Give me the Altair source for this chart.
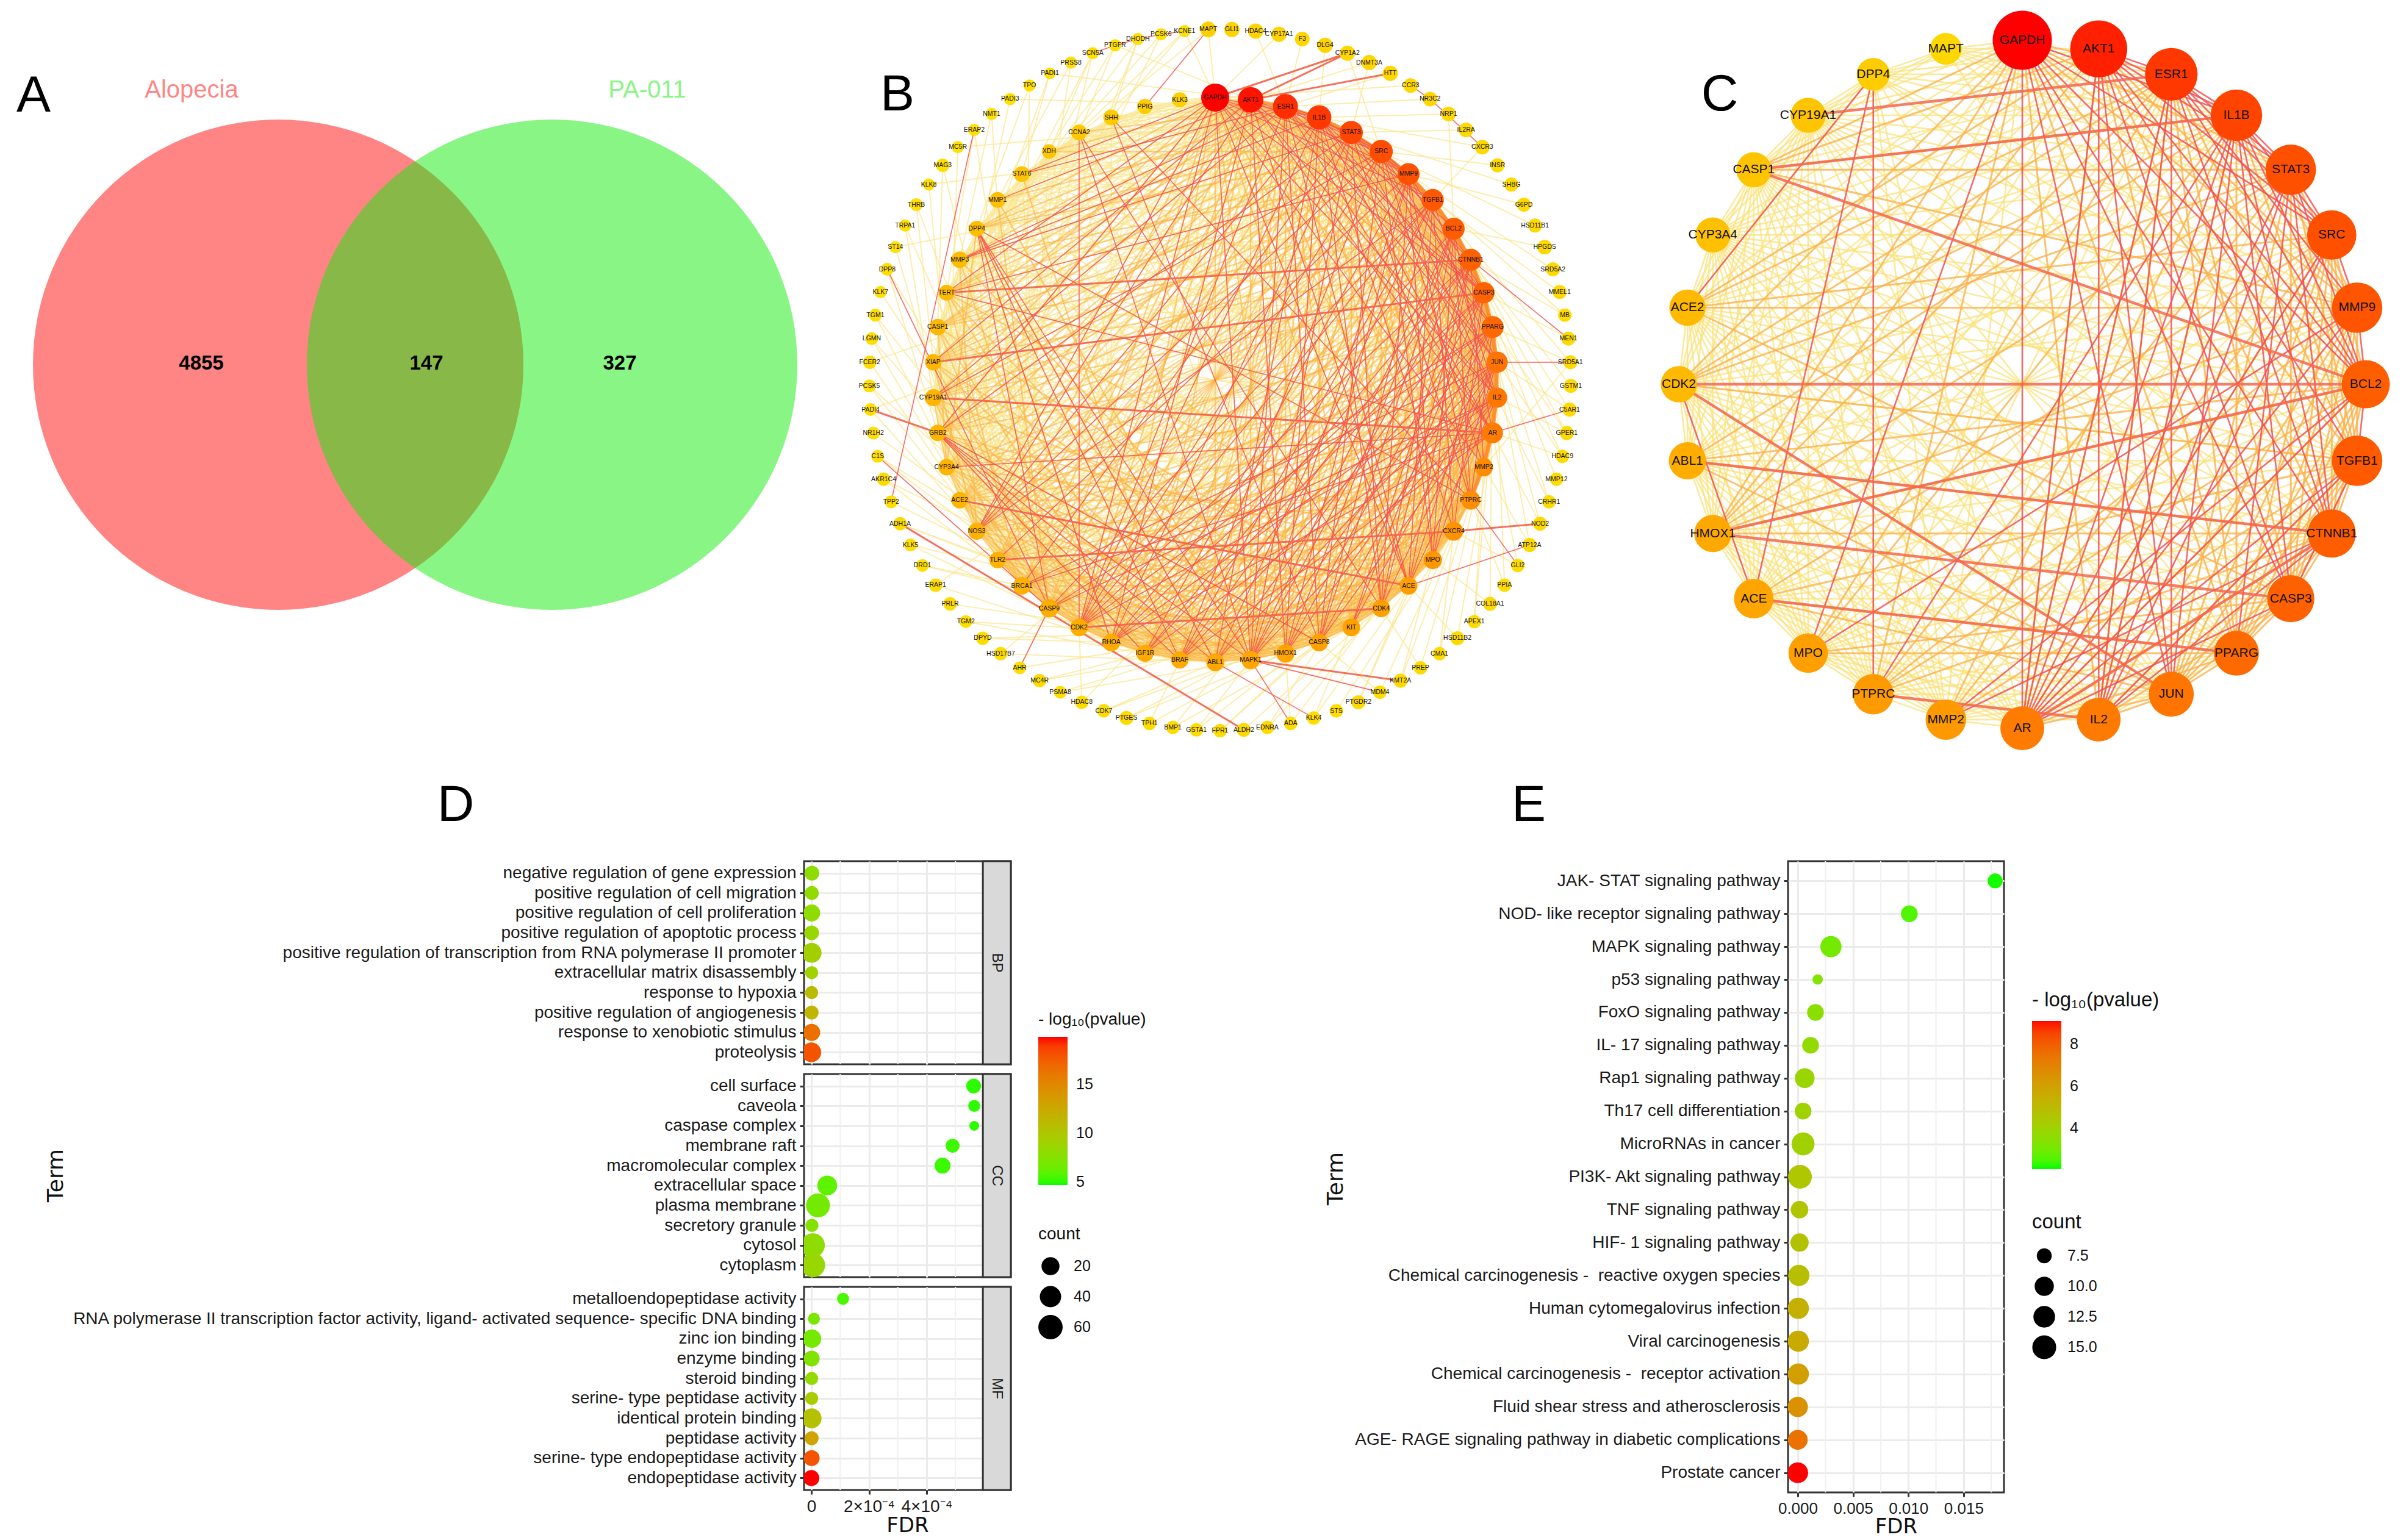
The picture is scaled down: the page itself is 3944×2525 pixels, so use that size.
import math
import altair as alt
import pandas as pd

FONT = "Liberation Sans"
WIDE = "DejaVu Sans"

# ---------- Panel A ----------
venn_x = [456, 905]
venn_y = [598, 598]
venn_r = 402
venn_names = ["Alopecia", "PA-011"]
venn_name_x = [314, 1061]
venn_name_y = [148, 148]
venn_counts = ["4855", "147", "327"]
venn_count_x = [330, 699, 1016]
venn_count_y = [596, 596, 596]

# ---------- Panel B nodes ----------
B_inner = ["GAPDH","AKT1","ESR1","IL1B","STAT3","SRC","MMP9","TGFB1","BCL2","CTNNB1","CASP3","PPARG","JUN","IL2","AR","MMP2","PTPRC","CXCR4","MPO","ACE","CDK4","KIT","CASP8","HMOX1","MAPK1","ABL1","BRAF","IGF1R","RHOA","CDK2","CASP9","BRCA1","TLR2","NOS3","ACE2","CYP3A4","GRB2","CYP19A1","XIAP","CASP1","TERT","MMP3","DPP4","MMP1","STAT6","XDH","CCNA2","SHH","PPIG","KLK3"]
B_inner_deg = [46,42,41,40,38,38,36,36,36,36,35,36,35,33,34,30,31,31,30,29,29,29,29,30,30,29,28,28,29,29,30,29,27,28,27,27,27,28,27,27,26,27,26,26,26,24,26,26,25,25]
B_inner_heat = [224,204,179,169,154,146,142,136,132,128,126,120,109,106,100,84,82,78,72,66,64,62,62,60,58,56,54,54,52,50,50,48,46,46,44,44,44,44,42,40,38,36,34,32,28,26,24,20,18,16]
B_outer = ["GLI1","HDAC4","CYP17A1","F3","DLG4","CYP1A2","DNMT3A","HTT","CCR3","NR3C2","NRP1","IL2RA","CXCR3","INSR","SHBG","G6PD","HSD11B1","HPGDS","SRD5A2","MMEL1","MB","MEN1","SRD5A1","GSTM1","C5AR1","GPER1","HDAC9","MMP12","CRHR1","NOD2","ATP12A","GLI2","PPIA","COL18A1","APEX1","HSD11B2","CMA1","PREP","KMT2A","MDM4","PTGDR2","STS","KLK4","ADA","EDNRA","ALDH2","FPR1","GSTA1","BMP1","TPH1","PTGES","CDK7","HDAC8","PSMA8","MC4R","AHR","HSD17B7","DPYD","TGM2","PRLR","ERAP1","DRD1","KLK5","ADH1A","TPP2","AKR1C4","C1S","NR1H2","PADI4","PCSK5","FCER2","LGMN","TGM1","KLK7","DPP8","ST14","TRPA1","THRB","KLK8","MAG3","MC5R","ERAP2","NMT1","PADI3","TPO","PADI1","PRSS8","SCN5A","PTGFR","DHODH","PCSK6","KCNE1","MAPT"]
B_outer_deg = [25,25,25,24,25,25,25,25,24,24,24,24,24,23,23,23,23,24,23,23,22,23,23,23,23,23,22,22,22,23,23,22,22,23,22,23,22,22,23,22,23,22,22,22,22,23,22,22,22,22,23,22,22,21,22,21,22,22,21,22,22,21,21,22,21,22,21,21,21,21,22,21,21,20,21,20,20,21,20,22,20,20,20,20,20,19,20,20,20,20,20,20,26]
B_outer_heat = [14,12,12,10,12,10,10,10,8,8,8,8,8,6,6,6,6,8,6,6,4,6,6,6,6,6,4,4,4,6,6,4,4,6,4,6,4,4,6,4,6,4,4,4,4,6,4,4,4,4,6,4,4,2,4,2,4,4,2,4,4,2,2,4,2,4,2,2,2,2,4,2,2,0,2,0,0,2,0,2,0,0,0,0,0,0,0,0,0,0,0,0,16]

# Edges of B (row = source index: partner indices).
B_pale = {
0:"16 18 19 20 21 22 24 26 27 29 31 33 34 35 37 39 40 41 43 44 45 46 47 48 49 52 55 58 142 141",
1:"15 17 19 20 21 23 25 26 28 30 32 33 35 36 38 40 42 43 44 46 47 48 55 56 135 138",
2:"16 18 19 20 22 24 27 28 29 31 33 34 36 37 38 41 43 44 45 47 48 51 53 57 59 133",
3:"15 17 18 20 21 23 25 27 29 30 32 33 35 37 39 41 42 44 45 46 47 54 60 62 130",
4:"14 16 19 20 22 24 26 28 30 31 34 35 36 38 40 41 43 45 46 48 49 56 61 64 128",
5:"15 17 18 21 22 23 25 26 29 31 32 33 35 37 39 41 43 44 47 55 63 66 70 125",
6:"16 18 19 20 23 24 27 28 30 32 34 36 38 40 42 44 45 46 48 65 68 72 120",
7:"17 19 21 22 25 26 29 30 33 35 37 39 40 41 43 47 62 69 74 118",
8:"16 18 20 22 23 24 28 31 32 34 35 36 38 41 43 44 46 60 67 75 110",
9:"15 19 20 21 24 26 27 29 30 33 34 37 40 42 45 48 49 70 73 76 106",
10:"17 18 21 23 25 27 28 31 32 35 36 38 39 43 44 46 71 77 80 102",
11:"16 19 22 24 26 29 30 33 34 37 39 41 42 45 47 72 75 78 83 98",
12:"18 20 21 23 25 28 31 32 35 36 40 41 43 44 74 76 79 84 94",
13:"17 19 22 24 27 29 30 33 34 37 38 41 45 46 75 78 82 86 90",
14:"20 21 23 26 28 31 32 35 36 39 40 43 76 79 81 85 88",
15:"18 22 24 25 27 30 33 34 37 38 41 44 72 80 84 89 93",
16:"20 21 23 26 28 29 31 35 36 39 42 45 82 87 92 96",
17:"19 22 24 27 30 32 33 37 38 40 43 46 81 86 91 97",
18:"21 23 25 28 31 34 35 39 41 44 83 88 95 100",
19:"22 24 26 29 32 33 36 38 42 45 85 90 99 103",
20:"23 25 27 30 34 35 37 40 43 47 87 94 101 105",
21:"24 26 28 31 33 36 39 41 46 92 98 104 107",
22:"25 27 29 32 35 37 38 44 48 89 96 108 112",
23:"26 28 30 33 34 39 42 47 93 100 109 111",
24:"27 29 31 36 37 40 43 49 97 103 113 115",
25:"28 30 32 35 38 41 44 101 106 114 116",
26:"29 31 33 34 39 42 45 99 108 117 119",
27:"30 32 36 37 40 46 104 110 121 122",
28:"31 33 35 38 41 47 107 112 123 124",
29:"32 34 36 39 42 43 102 115 126 127",
30:"33 35 37 40 44 48 105 118 129 131",
31:"34 36 38 41 45 111 120 132 134",
32:"35 37 39 42 46 113 122 136",
33:"36 38 40 43 47 116 125 137",
34:"37 39 41 44 48 119 128 139",
35:"38 40 42 45 49 121 130 140",
36:"39 41 43 46 124 133",
37:"40 42 44 47 126 135",
38:"41 43 45 127 137",
39:"42 44 46 129 138",
40:"43 45 47 131 139",
41:"44 46 48 132 140",
42:"45 47 134 141",
43:"46 48 136 142",
44:"47 49 135",
45:"48 137",
46:"49 138",
47:"141 139",
}
B_orange = {
0:"2 4 6 8 11 14 17 20 23 25 28 30 32 36 38 42",
1:"3 5 7 9 12 16 18 22 24 27 29 31 34 37 39 41 45",
2:"4 6 9 11 13 15 17 21 23 25 26 30 32 35 39 40 42 46",
3:"5 7 8 10 13 16 19 22 24 26 28 31 34 36 38 40 43",
4:"6 7 9 11 12 15 17 18 21 23 25 27 29 32 33 37 39 42",
5:"7 8 10 12 14 16 19 20 24 27 28 30 34 36 38 40 42 45",
6:"7 8 9 11 13 14 15 17 21 22 25 26 29 31 33 35 37 39 41",
7:"8 9 10 11 12 14 15 16 18 20 23 24 27 28 31 32 34 36 38",
8:"9 10 11 12 13 15 17 19 21 25 26 27 29 30 33 37 39",
9:"10 11 12 13 14 16 17 18 22 23 25 28 31 32 35 36 38",
10:"11 12 13 14 15 16 19 20 22 24 26 29 30 33 34 37",
11:"12 13 14 15 17 18 20 21 23 25 27 28 31 32 35 36",
12:"13 14 15 16 17 19 22 24 26 27 29 30 33 34",
13:"14 15 16 18 20 21 23 25 26 28 31 32 35",
14:"15 16 17 18 19 22 24 25 27 29 30 33 34 37",
15:"16 17 19 20 21 23 26 28 29 31 32",
16:"17 18 19 22 24 25 27 30 33 34",
17:"18 20 21 23 25 26 28 29 31 35",
18:"20 22 24 26 27 30 32 36 40",
19:"21 23 25 27 28 31 34 37",
20:"22 24 26 28 29 33 36 39",
21:"23 25 27 30 32 35 38",
22:"24 26 28 31 34 36 41",
23:"25 27 29 32 35 40",
24:"26 28 30 33 38 43",
25:"27 29 31 34 37 42",
26:"28 30 32 35 40 44",
27:"29 31 33 36 39",
28:"30 32 34 37 42",
29:"31 33 35 38 41",
30:"32 34 36 39 43",
31:"33 35 37 40",
33:"35 38 41",
35:"37 39 42",
}
B_chain = {
1:"2",2:"3",3:"4 5",4:"5 6",5:"6 7",6:"7 8",7:"8 9",8:"9 10",9:"10 11",10:"11 12",11:"12 13",12:"13 14",13:"14 15",14:"15 16",15:"16",
}
B_red = {
0:"3 5 7 10 13 15 19 24 29 33 36 40 44",
1:"4 6 10 13 14 19 23 28 33 38 43",
2:"3 5 7 10 12 14 19 22 24 29 37 41 44",
3:"6 9 11 12 14 17 20 23 25 29 33 41",
4:"5 8 10 13 16 20 24 28 31 36 41",
5:"6 9 11 13 15 18 22 26 29 33 37",
6:"10 12 16 18 20 23 24 27 32 40",
7:"13 17 19 22 25 26 29 30 33",
8:"14 16 18 20 22 23 24 28",
9:"15 19 20 21 24 26 27 29",
10:"17 18 21 23 25 27 28",
11:"16 19 22 24 26 29 30",
12:"18 20 21 23 25 28 31",
13:"19 22 24 27 29 30",
14:"26 28 31 35 40",
42:"24 25 26 28 30",
36:"24 25 27 22 26",
46:"20 24 29",
47:"16 22",
}
B_red_named = "MAPT-PPIG ERAP2-TPP2 DPP8-CASP9 C1S-CASP9 ATP12A-ACE C5AR1-AR PTPRC-GLI2 MDM4-MAPK1 ADA-MAPK1 KLK4-ABL1 AHR-CASP9 MEN1-CTNNB1 SRD5A1-JUN SCN5A-PTGFR PTGFR-DHODH DHODH-PCSK6 PCSK6-KCNE1 CCR3-NR3C2 NR3C2-CXCR3 DPP4-PTPRC"
B_thick_named = "ACE2-ACE TLR2-CXCR4 CDK2-CDK4 TERT-CTNNB1 XIAP-CASP3 CYP19A1-AR CYP1A2-GAPDH CYP1A2-AKT1 HTT-AKT1 ADH1A-ALDH2 PADI4-GRB2 NOD2-CXCR4 KMT2A-MAPK1"

# ---------- Panel C ----------
C_nodes = ["GAPDH","AKT1","ESR1","IL1B","STAT3","SRC","MMP9","BCL2","TGFB1","CTNNB1","CASP3","PPARG","JUN","IL2","AR","MMP2","PTPRC","MPO","ACE","HMOX1","ABL1","CDK2","ACE2","CYP3A4","CASP1","CYP19A1","DPP4","MAPT"]
C_deg = [27,26,24,23.5,23,22.5,23,22,23,22,21.5,20.5,20.5,20,20,18.5,18.5,18,18,17,17,16.5,16.5,16,16,16,15,14.5]
C_heat = [224,192,168,156,144,144,139,130,134,130,128,118,107,102,100,71,70,64,59,56,50,39,39,32,28,28,20,9]
C_pale = {
0:"18 20 22 23 25 26 27 15",
1:"27 26 25 23 21 20 18 16",
2:"27 26 24 23 20 18 16 15",
3:"27 26 25 23 22 19 18",
4:"27 26 25 23 22 20 18 17 15",
5:"27 25 23 21 20 19 17 16",
6:"26 25 23 21 20 18 15",
7:"27 26 25 23 22 18 17",
8:"26 25 24 23 22 21 20 19 17 16",
9:"25 24 23 22 21 18 17",
10:"27 25 24 23 21 20 18 16 15",
11:"26 25 24 23 22 21 20 19 16 15 13",
12:"25 24 23 22 21 19 17 16 15",
13:"25 24 23 22 21 20 19 18 17 16 15",
14:"26 24 23 22 21 20 19 18 17 15",
15:"26 25 24 23 22 21 20 19 18 17 16",
16:"25 24 23 22 21 20 19 18 17",
17:"25 24 23 22 21 20 19 18",
18:"25 24 23 22 20 19",
19:"25 24 23 22 21 20",
20:"25 24 23 22 21",
21:"25 24 23 22",
22:"26 25 24 23",
23:"26 25 24",
24:"27 26 25",
25:"27 26",
26:"27",
}
C_orange = {
0:"2 4 6 8 11 13 16 24 19 21",
1:"6 9 11 14 24 19 22",
2:"8 10 11 13 14 22 17 19 21",
3:"6 8 11 13 15 21 24 17 20",
4:"6 8 10 12 19 24 16 21",
5:"7 8 9 10 11 12 14 15 18 22",
6:"8 9 10 11 12 13 22 16 19 24",
7:"9 10 11 12 14 16 19 20",
8:"9 10 11 12 13 21 15 18",
9:"10 11 12 14 20 16 19",
10:"11 12 13 17 22",
11:"12 14 17 18",
12:"13 14 18 20",
}
C_red = {
0:"3 5 7 9 10 12 14 17",
1:"2 3 4 5 7 8 10 12 13 14",
2:"3 4 5 6 7 9 12 13 14",
3:"4 5 7 9 10 12 14 13 16",
4:"5 7 9 11 13 14",
5:"6 13 14",
6:"7 17 14",
7:"8 14 15",
8:"10 13 14",
9:"13 15",
10:"14",
26:"22 16 18",
21:"18",
}
C_thick = {24:"3 7", 25:"2", 21:"7 12", 19:"7 10", 20:"9", 18:"11", 16:"13", 14:"9"}

# ---------- Panel D ----------
BP_terms = ["negative regulation of gene expression","positive regulation of cell migration","positive regulation of cell proliferation","positive regulation of apoptotic process","positive regulation of transcription from RNA polymerase II promoter","extracellular matrix disassembly","response to hypoxia","positive regulation of angiogenesis","response to xenobiotic stimulus","proteolysis"]
BP_fdr = [2e-6,1.5e-6,1e-6,1e-6,1e-6,1e-6,1e-6,1e-6,1e-6,0]
BP_count = [14,12,20,14,36,10,10,12,20,35]
BP_p = [8,8.2,8,8.5,9.2,9,11,11.5,16.5,18]
CC_terms = ["cell surface","caveola","caspase complex","membrane raft","macromolecular complex","extracellular space","plasma membrane","secretory granule","cytosol","cytoplasm"]
CC_fdr = [5.63e-4,5.65e-4,5.65e-4,4.9e-4,4.55e-4,0.55e-4,0.23e-4,0.02e-4,0.05e-4,0.06e-4]
CC_count = [14,8,4,12,17,36,64,10,65,65]
CC_p = [5,5,5,5.2,5.2,6,6.7,7.5,8,8.5]
MF_terms = ["metalloendopeptidase activity","RNA polymerase II transcription factor activity, ligand- activated sequence- specific DNA binding","zinc ion binding","enzyme binding","steroid binding","serine- type peptidase activity","identical protein binding","peptidase activity","serine- type endopeptidase activity","endopeptidase activity"]
MF_fdr = [1.1e-4,0.09e-4,2e-6,1e-6,1e-6,1e-6,1e-6,1e-6,1e-6,0]
MF_count = [8,8,28,17,10,10,36,12,17,17]
MF_p = [5.5,7,6.8,7.4,8.3,9.5,10.5,13,18,19.9]

# ---------- Panel E ----------
E_terms = ["JAK- STAT signaling pathway","NOD- like receptor signaling pathway","MAPK signaling pathway","p53 signaling pathway","FoxO signaling pathway","IL- 17 signaling pathway","Rap1 signaling pathway","Th17 cell differentiation","MicroRNAs in cancer","PI3K- Akt signaling pathway","TNF signaling pathway","HIF- 1 signaling pathway","Chemical carcinogenesis -\u00a0 reactive oxygen species","Human cytomegalovirus infection","Viral carcinogenesis","Chemical carcinogenesis -\u00a0 receptor activation","Fluid shear stress and atherosclerosis","AGE- RAGE signaling pathway in diabetic complications","Prostate cancer"]
E_fdr = [0.01785,0.01009,0.0030,0.0018,0.0016,0.00116,0.00063,0.00048,0.00048,0.0002,0.00016,0.00016,0.0001,0.00005,0.00005,0.00005,0,0,0]
E_count = [8,9,13,5,9,9,11.5,9,15,16,9.5,10,13,13,13,13,12,11.5,12.5]
E_p = [2.1,2.5,3.0,3.3,3.5,3.7,3.9,4.0,4.1,4.5,4.6,4.7,4.8,5.4,5.6,6.0,6.5,7.5,9.1]

# ---------- helpers ----------
def pairs(rows):
    out = []
    for s, txt in rows.items():
        for t in txt.split():
            out.append((int(s), int(t)))
    return out

def edge_frame(plist, xs, ys):
    return pd.DataFrame({"x": [xs[a] for a, b in plist], "y": [ys[a] for a, b in plist],
                         "x2": [xs[b] for a, b in plist], "y2": [ys[b] for a, b in plist]})

TOP_Y = [1250, 8]

def network(nodes, xs, ys, deg, heat, edge_tiers, x_dom, deg_max, d_max, font, letter, letter_x, letter_y):
    X = alt.X("x:Q", scale=alt.Scale(domain=x_dom, nice=False, zero=False), axis=None)
    Y = alt.Y("y:Q", scale=alt.Scale(domain=TOP_Y, nice=False, zero=False), axis=None)
    layers = []
    for df, color, w, op in edge_tiers:
        layers.append(alt.Chart(df).mark_rule(color=color, strokeWidth=w, opacity=op)
                      .encode(x=X, y=Y, x2=alt.X2("x2:Q"), y2=alt.Y2("y2:Q")))
    nd = pd.DataFrame({"x": xs, "y": ys, "name": nodes, "deg": deg, "heat": heat})
    layers.append(alt.Chart(nd).mark_circle(opacity=1).encode(
        x=X, y=Y,
        size=alt.Size("deg:Q", legend=None, scale=alt.Scale(type="pow", exponent=2, domain=[0, deg_max], range=[0, d_max ** 2])),
        color=alt.Color("heat:Q", legend=None, scale=alt.Scale(domain=[0, 224], range=["#ffe000", "#ff0000"], interpolate="rgb"))))
    layers.append(alt.Chart(nd).mark_text(font=FONT, fontSize=font, color="#111111").encode(x=X, y=Y, text="name:N"))
    ld = pd.DataFrame({"x": [letter_x], "y": [letter_y], "t": [letter]})
    layers.append(alt.Chart(ld).mark_text(font=FONT, fontSize=84, color="black").encode(x=X, y=Y, text="t:N"))
    return alt.layer(*layers).resolve_scale(color="independent", size="independent").properties(
        width=x_dom[1] - x_dom[0], height=TOP_Y[0] - TOP_Y[1])

# ---------- A : its view starts where the D plot starts, its marks reach to the left of the view ----------
A_dom = [1318, 1370]
XA = alt.X("x:Q", scale=alt.Scale(domain=A_dom, nice=False, zero=False), axis=None)
YA = alt.Y("y:Q", scale=alt.Scale(domain=TOP_Y, nice=False, zero=False), axis=None)
circ_size = (2 * venn_r) ** 2
red_c = alt.Chart(pd.DataFrame({"x": venn_x[:1], "y": venn_y[:1]})).mark_circle(size=circ_size, color="#ff0b0b", opacity=0.5).encode(x=XA, y=YA)
grn_c = alt.Chart(pd.DataFrame({"x": venn_x[1:], "y": venn_y[1:]})).mark_circle(size=circ_size, color="#11eb0b", opacity=0.5).encode(x=XA, y=YA)
n_df = pd.DataFrame({"x": venn_name_x, "y": venn_name_y, "t": venn_names})
names = alt.Chart(n_df).mark_text(font=FONT, fontSize=40).encode(
    x=XA, y=YA, text="t:N",
    color=alt.Color("t:N", legend=None, scale=alt.Scale(domain=venn_names, range=["#ff8585", "#88f585"])))
cnts = alt.Chart(pd.DataFrame({"x": venn_count_x, "y": venn_count_y, "t": venn_counts})).mark_text(
    font=FONT, fontSize=33, fontWeight="bold", color="black").encode(x=XA, y=YA, text="t:N")
let_a = alt.Chart(pd.DataFrame({"x": [55], "y": [158], "t": ["A"]})).mark_text(font=FONT, fontSize=84, color="black").encode(x=XA, y=YA, text="t:N")
panel_a = alt.layer(red_c, grn_c, names, cnts, let_a).properties(width=A_dom[1] - A_dom[0], height=TOP_Y[0] - TOP_Y[1])

# ---------- B ----------
b_names = B_inner + B_outer
b_x, b_y = [], []
for i in range(len(B_inner)):
    t = 2 * math.pi * i / len(B_inner)
    b_x.append(1992 + 463 * math.sin(t)); b_y.append(623 - 463 * math.cos(t))
for i in range(len(B_outer)):
    t = 2 * math.pi * (i + 0.5) / len(B_outer)
    b_x.append(2000 + 575 * math.sin(t)); b_y.append(623 - 575 * math.cos(t))
idx = {n: i for i, n in enumerate(b_names)}
def named(txt):
    return [(idx[p.split("-")[0]], idx[p.split("-")[1]]) for p in txt.split()]
b_tiers = [
    (edge_frame(pairs(B_pale), b_x, b_y), "#fbe68c", 2, 0.7),
    (edge_frame(pairs(B_orange), b_x, b_y), "#fbb23f", 2.4, 0.6),
    (edge_frame(pairs(B_chain), b_x, b_y), "#fb8f2a", 5, 0.8),
    (edge_frame(pairs(B_red) + named(B_red_named), b_x, b_y), "#f4504a", 1.6, 0.85),
    (edge_frame(named(B_thick_named), b_x, b_y), "#f5604a", 3, 0.9),
]
panel_b = network(b_names, b_x, b_y, B_inner_deg + B_outer_deg, B_inner_heat + B_outer_heat, b_tiers,
                  [1370, 2660], 46, 46, 10.5, "B", 1471, 156)

# ---------- C ----------
c_x = [3315 + 563 * math.sin(2 * math.pi * i / len(C_nodes)) for i in range(len(C_nodes))]
c_y = [630 - 564 * math.cos(2 * math.pi * i / len(C_nodes)) for i in range(len(C_nodes))]
c_tiers = [
    (edge_frame(pairs(C_pale), c_x, c_y), "#fbe27a", 2.6, 0.75),
    (edge_frame(pairs(C_orange), c_x, c_y), "#fbb14a", 3.0, 0.8),
    (edge_frame(pairs(C_red), c_x, c_y), "#f2504c", 2.6, 0.85),
    (edge_frame(pairs(C_thick), c_x, c_y), "#f5674c", 4.5, 0.85),
]
panel_c = network(C_nodes, c_x, c_y, C_deg, C_heat, c_tiers, [2660, 3936], 27, 97, 21, "C", 2819, 156)

# ---------- dot plots ----------
AX = dict(labelFont=FONT, labelColor="#1a1a1a", tickColor="#333333", tickWidth=3, tickSize=7,
          gridColor="#ebebeb", gridWidth=3, domain=False)
PANEL_VIEW = alt.ViewConfig(stroke="#333333", strokeWidth=3)
D_X_DOM = [-2.54e-5, 6.92e-4]
D_PANEL_END = 5.95e-4
D_MAJOR = [0, 2e-4, 4e-4]
D_MINOR = [1e-4, 3e-4, 5e-4]
D_H = 333
D_SIZE = alt.Scale(domain=[4, 20, 40, 65], range=[256, 784, 1122, 1560])
D_COLOR = alt.Scale(domain=[4.7, 19.9], range=["#00ff00", "#ff0000"], interpolate="lab")
D_LEG_C = alt.Legend(orient="none", legendX=384, legendY=246, title="- log₁₀(pvalue)", titleFont=FONT, titleFontWeight="normal",
                     titleFontSize=28, titleLimit=400, titleColor="#111111", titlePadding=14, labelFont=FONT, labelFontSize=25, labelColor="#111111",
                     gradientLength=243, gradientThickness=48, values=[5, 10, 15], labelOffset=14, type="gradient")
D_LEG_S = alt.Legend(orient="none", legendX=384, legendY=598, title="count", titleFont=FONT, titleFontWeight="normal",
                     titleFontSize=28, titleColor="#111111", titlePadding=14, labelFont=FONT, labelFontSize=25, labelColor="#111111",
                     values=[20, 40, 60], clipHeight=48, symbolFillColor="black", symbolStrokeColor="black", symbolType="circle", labelOffset=18)

def dot_panel(terms, fdr, cnt, p, strip, show_x=False, term_title=None, legends=False, letter=None):
    df = pd.DataFrame({"Term": terms, "FDR": fdr, "count": cnt, "p": p})
    xaxis = alt.Axis(values=D_MAJOR, grid=True, title="FDR" if show_x else None, labels=show_x, ticks=show_x,
                     labelFontSize=28, labelOverlap=False, labelBound=False, labelPadding=6,
                     titleFont=WIDE, titleFontWeight="normal", titleFontSize=34, titleColor="#111111", titlePadding=0,
                     labelExpr="datum.value == 0 ? '0' : (datum.value < 3e-4 ? '2×10⁻⁴' : '4×10⁻⁴')", **AX)
    X = alt.X("FDR:Q", scale=alt.Scale(domain=D_X_DOM, nice=False, zero=False), axis=xaxis)
    if term_title:
        y_kw = dict(title=term_title, titleX=-1208, titleY=166, titleFont=WIDE, titleFontWeight="normal", titleFontSize=36, titleColor="#111111", titleAngle=270)
    else:
        y_kw = dict(title=None)
    Y = alt.Y("Term:N", sort=terms, scale=alt.Scale(padding=0.6),
              axis=alt.Axis(grid=True, labelFontSize=28, labelLimit=1500, labelPadding=6, **AX, **y_kw))
    base = alt.Chart(df).mark_circle(opacity=1, clip=True).encode(
        x=X, y=Y,
        size=alt.Size("count:Q", scale=D_SIZE, legend=D_LEG_S if legends else None),
        color=alt.Color("p:Q", scale=D_COLOR, legend=D_LEG_C if legends else None))
    minor = alt.Chart(pd.DataFrame({"FDR": D_MINOR})).mark_rule(color="#f0f0f0", strokeWidth=2).encode(x=X)
    strip_rect = alt.Chart(pd.DataFrame({"FDR": [D_PANEL_END], "end": [D_X_DOM[1]]})).mark_rect(
        fill="#d9d9d9", stroke="#333333", strokeWidth=3).encode(x=X, x2=alt.X2("end:Q"), y=alt.value(0), y2=alt.value(D_H))
    strip_txt = alt.Chart(pd.DataFrame({"t": [strip]})).mark_text(angle=90, font=FONT, fontSize=24, color="#1a1a1a").encode(
        x=alt.value(316), y=alt.value(D_H / 2), text="t:N")
    layers = [minor, base, strip_rect, strip_txt]
    if letter:
        layers.append(alt.Chart(pd.DataFrame({"t": [letter]})).mark_text(font=FONT, fontSize=84, color="black").encode(
            x=alt.value(-571), y=alt.value(-91), text="t:N"))
    return alt.layer(*layers).properties(width=339, height=D_H, view=PANEL_VIEW)

d_bp = dot_panel(BP_terms, BP_fdr, BP_count, BP_p, "BP", legends=True, letter="D")
d_cc = dot_panel(CC_terms, CC_fdr, CC_count, CC_p, "CC", term_title="Term")
d_mf = dot_panel(MF_terms, MF_fdr, MF_count, MF_p, "MF", show_x=True)
panel_d = alt.vconcat(d_bp, d_cc, d_mf, spacing=10).resolve_scale(color="shared", size="shared")

E_DF = pd.DataFrame({"Term": E_terms, "FDR": E_fdr, "count": E_count, "p": E_p})
E_X_DOM = [-0.00088, 0.01865]
E_MAJOR = [0, 0.005, 0.01, 0.015]
E_MINOR = [0.0025, 0.0075, 0.0125, 0.0175]
EX = alt.X("FDR:Q", scale=alt.Scale(domain=E_X_DOM, nice=False, zero=False),
           axis=alt.Axis(values=E_MAJOR, format=".3f", grid=True, labelFontSize=26, labelOverlap=False, labelPadding=6,
                         title="FDR", titleFont=WIDE, titleFontWeight="normal", titleFontSize=34, titleColor="#111111", titlePadding=0, **AX))
EY = alt.Y("Term:N", sort=E_terms, scale=alt.Scale(padding=0.6),
           axis=alt.Axis(grid=True, labelFontSize=28, labelLimit=1500, labelPadding=6, title="Term", titleX=-723, titleY=520,
                         titleFont=WIDE, titleFontWeight="normal", titleFontSize=36, titleColor="#111111", **AX))
E_LEG_C = alt.Legend(orient="none", legendX=400, legendY=212, title="- log₁₀(pvalue)", titleFont=FONT, titleFontWeight="normal",
                     titleFontSize=33, titleLimit=400, titleColor="#111111", titlePadding=17, labelFont=FONT, labelFontSize=25, labelColor="#111111",
                     gradientLength=243, gradientThickness=48, values=[4, 6, 8], labelOffset=14, type="gradient")
E_LEG_S = alt.Legend(orient="none", legendX=400, legendY=576, title="count", titleFont=FONT, titleFontWeight="normal",
                     titleFontSize=33, titleColor="#111111", titlePadding=14, labelFont=FONT, labelFontSize=25, labelColor="#111111", format=".1f",
                     values=[7.5, 10, 12.5, 15], clipHeight=48, symbolFillColor="black", symbolStrokeColor="black", symbolType="circle", labelOffset=18)
e_base = alt.Chart(E_DF).mark_circle(opacity=1, clip=True).encode(
    x=EX, y=EY,
    size=alt.Size("count:Q", legend=E_LEG_S, scale=alt.Scale(domain=[5, 7.5, 10, 12.5, 16], range=[289, 529, 900, 1156, 1521])),
    color=alt.Color("p:Q", legend=E_LEG_C, scale=alt.Scale(domain=[2.06, 9.1], range=["#00ff00", "#ff0000"], interpolate="lab")))
e_minor = alt.Chart(pd.DataFrame({"FDR": E_MINOR})).mark_rule(color="#f0f0f0", strokeWidth=2).encode(x=EX)
e_letter = alt.Chart(pd.DataFrame({"t": ["E"]})).mark_text(font=FONT, fontSize=84, color="black").encode(
    x=alt.value(-425), y=alt.value(-91), text="t:N")
panel_e = alt.layer(e_minor, e_base, e_letter).properties(width=354, height=1035, view=PANEL_VIEW)

top = alt.hconcat(panel_a, panel_b, panel_c, spacing=0)
bottom = alt.hconcat(panel_d, panel_e, spacing=290).resolve_scale(color="independent", size="independent")
chart = alt.vconcat(top, bottom, spacing=27).resolve_scale(color="independent", size="independent").properties(
    padding={"left": 18, "top": 0, "right": 0, "bottom": 0}, background="white"
).configure_view(stroke=None)
chart.save("out.html", embed_options={"renderer": "svg", "actions": False})
